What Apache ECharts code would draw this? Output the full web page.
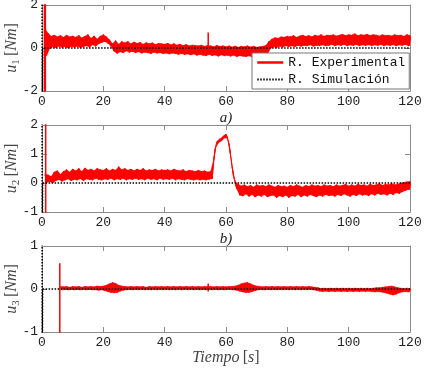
<!DOCTYPE html>
<html>
<head>
<meta charset="utf-8">
<script src="https://cdn.jsdelivr.net/npm/echarts@6/dist/echarts.min.js"></script>
<style>
  html, body { margin: 0; padding: 0; background: #fff; }
  #chart { width: 426px; height: 369px; }
</style>
</head>
<body>
<div id="chart"></div>
<script>
// envelopes of the measured torque, one value per second (t = 0..120)
const u1Hi = [null,
  0.9, 0.68, 0.55, 0.6, 0.52, 0.58, 0.5, 0.6, 0.52, 0.56,
  0.5, 0.58, 0.47, 0.55, 0.62, 0.45, 0.56, 0.42, 0.55, 0.62,
  0.52, 0.38, 0.2, 0.34, 0.18, 0.3, 0.24, 0.3, 0.2, 0.28,
  0.22, 0.26, 0.18, 0.25, 0.2, 0.24, 0.16, 0.22, 0.2, 0.18,
  0.22, 0.15, 0.2, 0.14, 0.18, 0.12, 0.16, 0.1, 0.14, 0.12,
  0.1, 0.14, 0.08, 0.12, 0.1, 0.06, 0.12, 0.08, 0.1, 0.06,
  0.1, 0.05, 0.09, 0.04, 0.08, 0.06, 0.1, 0.05, 0.08, 0.04,
  0.06, 0.08, 0.12, 0.3, 0.42, 0.48, 0.45, 0.52, 0.5, 0.55,
  0.52, 0.58, 0.5, 0.56, 0.6, 0.54, 0.58, 0.52, 0.6, 0.56,
  0.62, 0.55, 0.6, 0.58, 0.62, 0.56, 0.6, 0.64, 0.58, 0.62,
  0.6, 0.66, 0.58, 0.62, 0.6, 0.64, 0.58, 0.62, 0.6, 0.56,
  0.62, 0.58, 0.6, 0.56, 0.62, 0.58, 0.6, 0.55, 0.62, 0.58];
const u1Lo = [null,
  -0.35, -0.02, 0.05, 0.02, 0.08, 0.03, 0.06, 0.0, 0.07, 0.04,
  0.08, 0.02, 0.06, 0.1, 0.04, 0.15, 0.08, 0.2, 0.26, 0.3,
  0.22, 0.08, -0.15, -0.25, -0.18, -0.22, -0.14, -0.2, -0.16, -0.22,
  -0.18, -0.24, -0.2, -0.22, -0.26, -0.2, -0.24, -0.22, -0.26, -0.24,
  -0.28, -0.24, -0.26, -0.3, -0.26, -0.3, -0.28, -0.32, -0.28, -0.34,
  -0.3, -0.34, -0.36, -0.3, -0.35, -0.33, -0.38, -0.32, -0.36, -0.34,
  -0.38, -0.34, -0.4, -0.36, -0.38, -0.4, -0.36, -0.42, -0.38, -0.4,
  -0.36, -0.38, -0.3, -0.02, 0.05, 0.02, 0.08, 0.04, 0.1, 0.06,
  0.1, 0.06, 0.12, 0.08, 0.12, 0.1, 0.14, 0.08, 0.12, 0.1,
  0.14, 0.1, 0.12, 0.16, 0.1, 0.14, 0.12, 0.16, 0.1, 0.14,
  0.12, 0.16, 0.1, 0.14, 0.12, 0.15, 0.1, 0.14, 0.12, 0.16,
  0.1, 0.14, 0.12, 0.15, 0.1, 0.14, 0.12, 0.16, 0.1, 0.14];

const u2Hi = [null,
  0.3, 0.28, 0.22, 0.38, 0.42, 0.3, 0.4, 0.46, 0.38, 0.48,
  0.42, 0.5, 0.4, 0.52, 0.44, 0.48, 0.42, 0.5, 0.46, 0.44,
  0.5, 0.42, 0.48, 0.44, 0.56, 0.46, 0.5, 0.44, 0.48, 0.42,
  0.48, 0.44, 0.5, 0.42, 0.46, 0.44, 0.48, 0.42, 0.46, 0.44,
  0.46, 0.42, 0.48, 0.44, 0.42, 0.46, 0.4, 0.44, 0.42, 0.4,
  0.44, 0.4, 0.42, 0.38, 0.4, 0.8, 1.42, 1.52, 1.6, 1.68,
  1.35, 0.55, 0.05, -0.05, -0.1, -0.06, -0.12, -0.08, -0.14, -0.06,
  -0.1, -0.08, -0.12, -0.06, -0.1, -0.14, -0.08, -0.12, -0.1, -0.14,
  -0.08, -0.12, -0.06, -0.1, -0.14, -0.08, -0.12, -0.06, -0.1, -0.08,
  -0.12, -0.06, -0.1, -0.08, -0.12, -0.06, -0.1, -0.08, -0.04, -0.1,
  -0.06, -0.1, -0.04, -0.08, -0.06, -0.1, -0.04, -0.08, -0.06, -0.02,
  -0.08, -0.04, -0.06, -0.02, -0.06, -0.04, 0.0, 0.02, 0.04, 0.05];
const u2Lo = [null,
  0.02, 0.05, 0.0, 0.08, 0.12, 0.06, 0.1, 0.14, 0.08, 0.12,
  0.1, 0.15, 0.08, 0.14, 0.12, 0.1, 0.16, 0.12, 0.1, 0.14,
  0.12, 0.16, 0.1, 0.14, 0.12, 0.16, 0.1, 0.14, 0.12, 0.16,
  0.12, 0.14, 0.1, 0.16, 0.12, 0.14, 0.1, 0.16, 0.12, 0.14,
  0.12, 0.16, 0.1, 0.14, 0.12, 0.1, 0.14, 0.12, 0.1, 0.13,
  0.1, 0.12, 0.1, 0.13, 0.15, 1.2, 1.38, 1.45, 1.55, 1.55,
  0.95, 0.2, -0.2, -0.42, -0.45, -0.38, -0.46, -0.4, -0.48, -0.42,
  -0.46, -0.4, -0.48, -0.44, -0.42, -0.5, -0.44, -0.48, -0.42, -0.5,
  -0.44, -0.46, -0.4, -0.48, -0.42, -0.46, -0.4, -0.44, -0.48, -0.42,
  -0.46, -0.4, -0.44, -0.42, -0.46, -0.4, -0.44, -0.38, -0.42, -0.46,
  -0.4, -0.44, -0.38, -0.42, -0.4, -0.44, -0.38, -0.42, -0.36, -0.4,
  -0.38, -0.42, -0.36, -0.4, -0.34, -0.36, -0.3, -0.26, -0.22, -0.24];

const u3Hi = [null, null, null, null, null, null,
  0.06, 0.05, 0.06, 0.04, 0.06,
  0.05, 0.06, 0.04, 0.06, 0.05, 0.06, 0.05, 0.07, 0.06, 0.07,
  0.09, 0.12, 0.15, 0.13, 0.09, 0.07, 0.06, 0.05, 0.06, 0.05,
  0.06, 0.05, 0.06, 0.04, 0.06, 0.05, 0.06, 0.05, 0.06, 0.05,
  0.06, 0.05, 0.06, 0.05, 0.06, 0.05, 0.06, 0.05, 0.06, 0.05,
  0.06, 0.05, 0.06, 0.06, 0.06, 0.05, 0.06, 0.05, 0.06, 0.05,
  0.06, 0.06, 0.07, 0.09, 0.12, 0.14, 0.15, 0.12, 0.09, 0.07,
  0.06, 0.05, 0.06, 0.05, 0.06, 0.05, 0.06, 0.05, 0.06, 0.05,
  0.06, 0.05, 0.06, 0.05, 0.06, 0.05, 0.06, 0.05, 0.04, 0.03,
  0.01, 0.02, 0.01, 0.02, 0.01, 0.02, 0.01, 0.02, 0.01, 0.02,
  0.01, 0.02, 0.01, 0.02, 0.01, 0.02, 0.01, 0.02, 0.03, 0.03,
  0.04, 0.05, 0.06, 0.07, 0.05, 0.03, 0.02, 0.01, 0.02, 0.01];
const u3Lo = [null, null, null, null, null, null,
  -0.02, -0.01, -0.02, -0.01, -0.02,
  -0.01, -0.02, -0.01, -0.02, -0.01, -0.02, -0.02, -0.03, -0.02, -0.04,
  -0.06, -0.08, -0.09, -0.08, -0.05, -0.03, -0.02, -0.01, -0.02, -0.01,
  -0.02, -0.01, -0.02, -0.01, -0.02, -0.01, -0.02, -0.01, -0.02, -0.01,
  -0.02, -0.01, -0.02, -0.01, -0.02, -0.01, -0.02, -0.01, -0.02, -0.01,
  -0.02, -0.01, -0.02, -0.01, -0.02, -0.01, -0.02, -0.01, -0.02, -0.01,
  -0.01, -0.02, -0.03, -0.05, -0.07, -0.08, -0.08, -0.06, -0.04, -0.02,
  -0.01, -0.02, -0.01, -0.02, -0.01, -0.02, -0.01, -0.02, -0.01, -0.02,
  -0.01, -0.02, -0.01, -0.02, -0.01, -0.02, -0.01, -0.02, -0.03, -0.05,
  -0.06, -0.05, -0.06, -0.05, -0.06, -0.05, -0.06, -0.05, -0.06, -0.05,
  -0.06, -0.05, -0.06, -0.05, -0.06, -0.05, -0.06, -0.07, -0.06, -0.07,
  -0.08, -0.1, -0.12, -0.14, -0.12, -0.09, -0.07, -0.06, -0.07, -0.06];

// isolated spikes: [t, low, high]
const u1Spikes = [[0.8, -2.5, 2.5], [1.1, -2.5, 2.5], [54.2, 0.0, 0.72]];
const u2Spikes = [[1.2, -1.5, 2.5]];
const u3Spikes = [[5.8, -1.5, 0.6], [54.2, -0.06, 0.13]];

// simulated response: zero after the initial transient
const simT = [0, 0.1, 0.2, 120];
const simU = [3, -3, 0, 0];

const DT = 1; // sample spacing of the envelopes, seconds

const mono = '"Liberation Mono", "DejaVu Sans Mono", monospace';
const serif = '"Liberation Serif", "DejaVu Serif", serif';
const axisGray = "#8c8c8c";
const RED = "#ff0000";
const EXP = "R. Experimental";
const SIM = "R. Simulación";

// alternate between upper and lower envelope so the line reads as noise
function noiseLine(lo, hi) {
  const pts = [];
  hi.forEach((h, i) => {
    if (h == null) return;
    pts.push([i * DT, h]);
    pts.push([i * DT + DT / 2, lo[i]]);
  });
  return pts;
}

// one quad per sample interval: [t0, lo0, hi0, t1, lo1, hi1]
function bandItems(lo, hi) {
  const items = [];
  for (let i = 0; i < hi.length - 1; i++) {
    if (hi[i] == null || hi[i + 1] == null) continue;
    items.push([i * DT, lo[i], hi[i], (i + 1) * DT, lo[i + 1], hi[i + 1]]);
  }
  return items;
}

function renderBand(params, api) {
  const t0 = api.value(0), t1 = api.value(3);
  const pts = [
    api.coord([t0, api.value(2)]),
    api.coord([t1, api.value(5)]),
    api.coord([t1 + DT / 2, api.value(4)]),
    api.coord([t0 + DT / 2, api.value(1)]),
  ];
  return {
    type: "polygon",
    shape: { points: pts },
    style: { fill: RED, stroke: RED, lineWidth: 0.5 },
  };
}

function spikeLine(spikes) {
  const pts = [];
  spikes.forEach(([t, lo, hi]) => {
    pts.push([t, lo], [t, hi], [t, null]);
  });
  return pts;
}

const nameRich = {
  i: { fontFamily: serif, fontStyle: "italic", fontSize: 16, color: "#444" },
  b: { fontFamily: serif, fontSize: 16, color: "#444" },
  s: { fontFamily: serif, fontSize: 11, color: "#444", verticalAlign: "bottom", lineHeight: 20 },
};

const panels = [
  { lo: u1Lo, hi: u1Hi, spikes: u1Spikes, min: -2, max: 2, step: 2, sub: "1", xName: "a)" },
  { lo: u2Lo, hi: u2Hi, spikes: u2Spikes, min: -1, max: 2, step: 1, sub: "2", xName: "b)" },
  { lo: u3Lo, hi: u3Hi, spikes: u3Spikes, min: -1, max: 1, step: 1, sub: "3", xName: "{i|Tiempo} {b|[}{i|s}{b|]}" },
];

const grids = [
  { left: 42, top: 5, width: 368, height: 86, outerBoundsMode: "none", containLabel: false },
  { left: 42, top: 125, width: 368, height: 87, outerBoundsMode: "none", containLabel: false },
  { left: 42, top: 246, width: 368, height: 86, outerBoundsMode: "none", containLabel: false },
];

const xAxes = [];
const yAxes = [];
const series = [];

panels.forEach((p, g) => {
  const line = { onZero: false, lineStyle: { color: axisGray, width: 1 } };
  const tick = { inside: true, length: 5, lineStyle: { color: axisGray } };
  xAxes.push({
    type: "value", gridIndex: g, min: 0, max: 120, interval: 20,
    axisLine: line, axisTick: tick, splitLine: { show: false },
    axisLabel: { fontFamily: mono, fontSize: 13, color: "#222", margin: 4 },
    name: p.xName, nameLocation: "middle", nameGap: g === 2 ? 18 : 20, nameMoveOverlap: false,
    nameTextStyle: g === 2
      ? { rich: nameRich }
      : { fontFamily: serif, fontStyle: "italic", fontSize: 15, color: "#222" },
  });
  xAxes.push({
    type: "value", gridIndex: g, min: 0, max: 120, interval: 20, position: "top",
    axisLine: line, axisTick: tick, splitLine: { show: false }, axisLabel: { show: false },
  });
  yAxes.push({
    type: "value", gridIndex: g, min: p.min, max: p.max, interval: p.step,
    axisLine: line, axisTick: tick, splitLine: { show: false },
    axisLabel: { fontFamily: mono, fontSize: 13, color: "#222", margin: 4 },
    name: "{i|u}{s|" + p.sub + "} {b|[}{i|Nm}{b|]}",
    nameLocation: "middle", nameRotate: 90, nameGap: 20, nameMoveOverlap: false,
    nameTextStyle: { rich: nameRich },
  });
  yAxes.push({
    type: "value", gridIndex: g, min: p.min, max: p.max, interval: p.step, position: "right",
    axisLine: line, axisTick: tick, splitLine: { show: false }, axisLabel: { show: false },
  });

  const ax = { xAxisIndex: 2 * g, yAxisIndex: 2 * g };
  series.push({
    name: EXP, type: "line", ...ax, symbol: "none", showSymbol: false, animation: false,
    data: noiseLine(p.lo, p.hi),
    lineStyle: { color: RED, width: 1 }, itemStyle: { color: RED },
  });
  series.push({
    name: EXP, type: "custom", ...ax, animation: false, clip: true,
    renderItem: renderBand, data: bandItems(p.lo, p.hi),
    encode: { x: 0, y: [1, 2] }, itemStyle: { color: RED },
  });
  series.push({
    name: EXP, type: "line", ...ax, symbol: "none", showSymbol: false, animation: false,
    data: spikeLine(p.spikes),
    lineStyle: { color: RED, width: 1.5 }, itemStyle: { color: RED },
  });
  series.push({
    name: SIM, type: "line", ...ax, symbol: "none", showSymbol: false, animation: false, z: 3,
    data: simT.map((t, i) => [t, simU[i]]),
    lineStyle: { color: "#000", width: 1.5, type: [1.5, 1.5] }, itemStyle: { color: "#000" },
  });
});

const chart = echarts.init(document.getElementById("chart"), null, { renderer: "canvas" });

const option = {
  backgroundColor: "#fff",
  animation: false,
  grid: grids,
  xAxis: xAxes,
  yAxis: yAxes,
  legend: {
    left: 252, top: 53, orient: "vertical", selectedMode: false,
    itemWidth: 26, itemHeight: 12, itemGap: 4, padding: [3, 4],
    backgroundColor: "#fff", borderColor: "#777", borderWidth: 1,
    itemStyle: { opacity: 0 },
    textStyle: { fontFamily: mono, fontSize: 13, color: "#111" },
    data: [
      { name: EXP, lineStyle: { width: 2.5 } },
      { name: SIM },
    ],
  },
  series: series,
};

chart.setOption(option);
</script>
</body>
</html>
